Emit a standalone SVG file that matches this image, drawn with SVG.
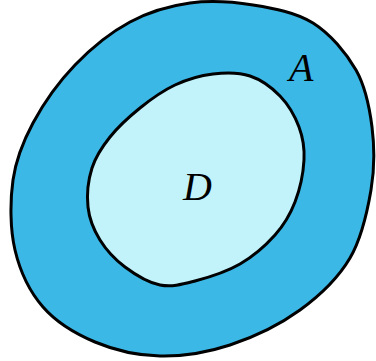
<svg xmlns="http://www.w3.org/2000/svg" width="376" height="361" viewBox="0 0 376 361">
<style>
.region{stroke:#000;stroke-width:3;stroke-linejoin:round}
.lbl{font-family:"Liberation Serif","DejaVu Serif",serif;font-style:italic;font-size:40px;fill:#000}
</style>
<rect width="376" height="361" fill="#fff"/>
<g id="A">
<path class="region" fill="#3BB8E6" d="M190,3 C210.5,0.2 232.5,1.7 253,5 C273.5,8.3 295.8,12.2 313,23 C330.2,33.8 346,52.7 356,70 C365.8,87.3 369.5,107 372,127 C374.5,147 374.7,168.2 371,190 C367.3,211.8 361.8,238 350,258 C338.2,278 320,295.5 300,310 C280,324.5 253.3,337.3 230,345 C206.7,352.7 182.5,356.5 160,356 C137.5,355.5 114.5,350.2 95,342 C75.5,333.8 56.3,322.3 43,307 C29.7,291.7 20,271.2 15,250 C10,228.8 10,201.2 13,180 C16,158.8 22.7,142.2 33,123 C43.3,103.8 58.8,81.8 75,65 C91.2,48.2 110.8,32.3 130,22 C149.2,11.7 169.5,5.8 190,3 Z"/>
<text class="lbl" x="289" y="81">A</text>
</g>
<g id="D">
<path class="region" fill="#C2F3FB" d="M213,74 C225.5,72.5 238.8,72.3 250,76 C261.2,79.7 271.8,87.5 280,96 C288.2,104.5 295,116.3 299,127 C303,137.7 304.7,147.5 304,160 C303.3,172.5 299.8,189.5 295,202 C290.2,214.5 284.2,224.7 275,235 C265.8,245.3 253.3,256.3 240,264 C226.7,271.7 208.3,277.5 195,281 C181.7,284.5 171.7,287.3 160,285 C148.3,282.7 135,274.5 125,267 C115,259.5 106.2,250 100,240 C93.8,230 89.3,219 88,207 C86.7,195 88.3,179.7 92,168 C95.7,156.3 102,147 110,137 C118,127 129.2,116.7 140,108 C150.8,99.3 162.8,90.7 175,85 C187.2,79.3 200.5,75.5 213,74 Z"/>
<text class="lbl" x="183" y="200">D</text>
</g>
</svg>
